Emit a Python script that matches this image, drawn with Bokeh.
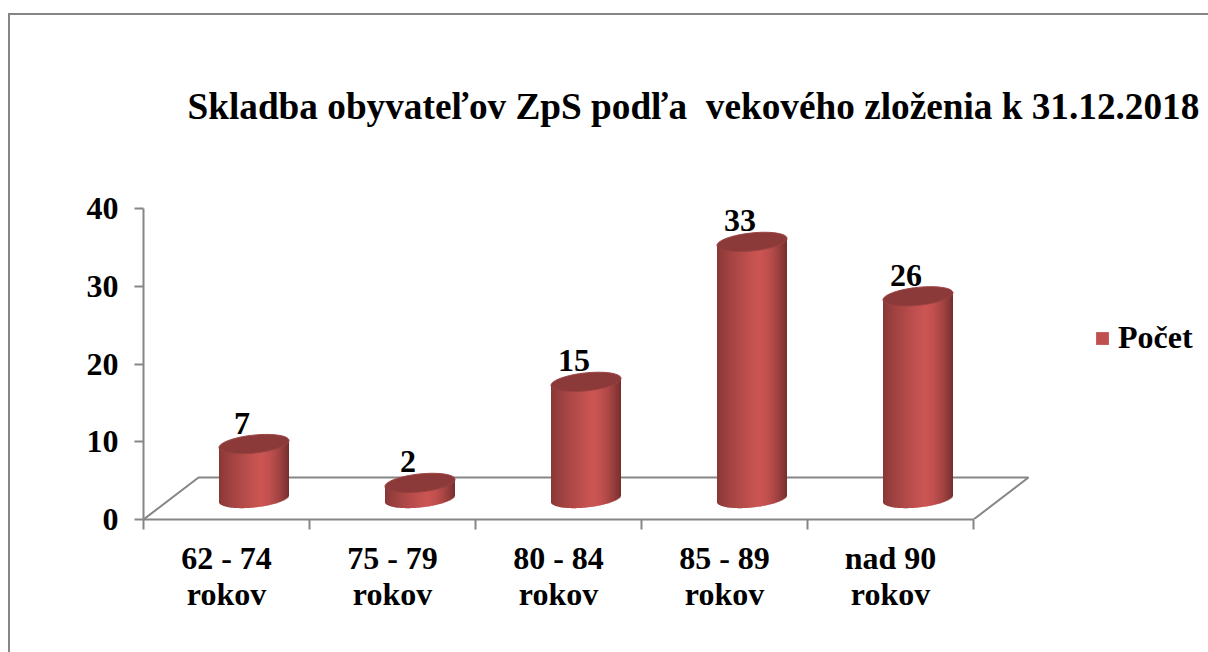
from bokeh.plotting import figure
from bokeh.embed import file_html
from bokeh.resources import INLINE
from bokeh.models import (ColumnDataSource, FixedTicker, Legend, LegendItem, Range1d, InlineStyleSheet)
from bokeh.core.properties import value
import numpy as np

title = "Skladba obyvateľov ZpS podľa\u00a0 vekového zloženia k 31.12.2018"
categories = ["62 - 74\nrokov", "75 - 79\nrokov", "80 - 84\nrokov", "85 - 89\nrokov", "nad 90\nrokov"]
counts = [7, 2, 15, 33, 26]
y_ticks = [0, 10, 20, 30, 40]
series_name = "Počet"

FONT = "Liberation Serif"
GRAY = "#868686"
W, H = 1208, 652
LEFT, BOTTOM_Y, TOP_Y = 143, 519, 170
PX_X = 166.0
PX_Y = 7.775

# chart border, open on the right and at the bottom where the page cuts it off
border = InlineStyleSheet(css=f""":host::before {{
  content: ""; position: absolute; left: 8px; top: 13px; right: 0; bottom: 0;
  border-left: 2px solid {GRAY}; border-top: 2px solid {GRAY};
  pointer-events: none; z-index: 10;
}}""")

p = figure(width=W, height=H, output_backend="svg", toolbar_location=None,
           x_range=Range1d(0, (W - LEFT) / PX_X),
           y_range=Range1d(0, (BOTTOM_Y - TOP_Y) / PX_Y),
           min_border_left=LEFT, min_border_right=0,
           min_border_top=TOP_Y, min_border_bottom=H - BOTTOM_Y,
           background_fill_color="white", border_fill_color="white", outline_line_color=None,
           stylesheets=[border])
p.grid.visible = False

# title
p.title.text = title
p.title.text_font = FONT
p.title.text_font_size = "37.25px"
p.title.text_font_style = "bold"
p.title.text_color = "black"
p.title.align = "left"
p.title.offset = 44
p.title.standoff = 87

# axes
ya = p.yaxis[0]
ya.bounds = (0, 40)
ya.ticker = FixedTicker(ticks=y_ticks)
ya.axis_line_color = GRAY
ya.axis_line_width = 2
ya.major_tick_line_color = GRAY
ya.major_tick_line_width = 2
ya.major_tick_out = 9
ya.major_tick_in = 0
ya.minor_tick_line_color = None
ya.major_label_text_font = FONT
ya.major_label_text_font_size = "32px"
ya.major_label_text_font_style = "bold"
ya.major_label_text_color = "black"
ya.major_label_standoff = 16

xa = p.xaxis[0]
xa.bounds = (0, len(categories))
centres = [i + 0.5 for i in range(len(categories))]
xa.ticker = FixedTicker(ticks=centres, minor_ticks=list(range(len(categories) + 1)))
xa.major_label_overrides = dict(zip(centres, categories))
xa.axis_line_color = GRAY
xa.axis_line_width = 2
xa.major_tick_line_color = None
xa.major_tick_out = 0
xa.major_tick_in = 0
xa.minor_tick_line_color = GRAY
xa.minor_tick_line_width = 2
xa.minor_tick_out = 10
xa.minor_tick_in = 0
xa.major_label_text_font = FONT
xa.major_label_text_font_size = "32px"
xa.major_label_text_font_style = "bold"
xa.major_label_text_color = "black"
xa.major_label_text_line_height = 1.0
xa.major_label_standoff = 10
xa.major_label_orientation = "horizontal"

# floor of the 3D box
DEPTH_X = 55 / PX_X
DEPTH_Y = 42 / PX_Y
n = len(categories)
p.line([0, DEPTH_X, n + DEPTH_X, n], [0, DEPTH_Y, DEPTH_Y, 0], line_color=GRAY, line_width=2)

# cylinders
OFF_X = 27.5 / PX_X
OFF_Y = 21 / PX_Y
HALF_W = 35 / PX_X
HALF_H = 9 / PX_Y
TILT = 0.1 * PX_X / PX_Y


def body_colour(u):
    # u in 0..1 across the cylinder
    dark = np.array([0x86, 0x37, 0x36])
    mid = np.array([0xCB, 0x55, 0x53])
    edge = np.array([0x74, 0x2E, 0x2D])
    if u < 0.58:
        t = (u / 0.58) ** 0.8
        c = dark + (mid - dark) * t
    else:
        t = ((u - 0.58) / 0.42) ** 1.8
        c = mid + (edge - mid) * t
    return "#%02x%02x%02x" % tuple(int(round(v)) for v in c)


STRIPS = 70
lefts, rights, bottoms, tops, cols = [], [], [], [], []
pxs, pys = [], []
for i, v in enumerate(counts):
    cx = i + 0.5 + OFF_X
    base = OFF_Y
    top = OFF_Y + v
    for k in range(STRIPS):
        u0 = k / STRIPS
        um = (k + 0.5) / STRIPS
        dx = (2 * um - 1) * HALF_W
        ell = HALF_H * np.sqrt(max(0.0, 1 - (dx / HALF_W) ** 2))
        lefts.append(cx - HALF_W + u0 * 2 * HALF_W)
        rights.append(cx - HALF_W + (k + 1.4) / STRIPS * 2 * HALF_W if k < STRIPS - 1 else cx + HALF_W)
        bottoms.append(base + TILT * dx - ell)
        tops.append(top + TILT * dx)
        cols.append(body_colour(um))
    t = np.linspace(0, 2 * np.pi, 80)
    pxs.append(list(cx + HALF_W * np.cos(t)))
    pys.append(list(top + TILT * HALF_W * np.cos(t) + HALF_H * np.sin(t)))

p.quad(left="l", right="r", bottom="b", top="t", fill_color="c", line_color=None,
       source=ColumnDataSource(dict(l=lefts, r=rights, b=bottoms, t=tops, c=cols)))
p.patches(pxs, pys, fill_color="#8C3A39", line_color="#9A4342", line_width=1)

# data labels
LABEL_DX = -12 / PX_X
p.text(x=[i + 0.5 + OFF_X + LABEL_DX for i in range(n)],
       y=[OFF_Y + v for v in counts],
       text=[str(v) for v in counts],
       y_offset=-21, text_align="center", text_baseline="alphabetic",
       text_font=value(FONT), text_font_size="32px", text_font_style="bold", text_color="black")

# legend
swatch = p.quad(left=[0], right=[0], bottom=[0], top=[0], fill_color="#C0504D", line_color=None)
leg = Legend(items=[LegendItem(label=series_name, renderers=[swatch])],
             location=(951, 163), border_line_color=None, background_fill_alpha=0,
             label_text_font=FONT, label_text_font_size="32px", label_text_font_style="bold",
             label_text_color="black", glyph_width=16, glyph_height=16, label_standoff=8,
             padding=4, margin=0)
p.add_layout(leg, "center")

open("out.html", "w").write(file_html(p, INLINE))
